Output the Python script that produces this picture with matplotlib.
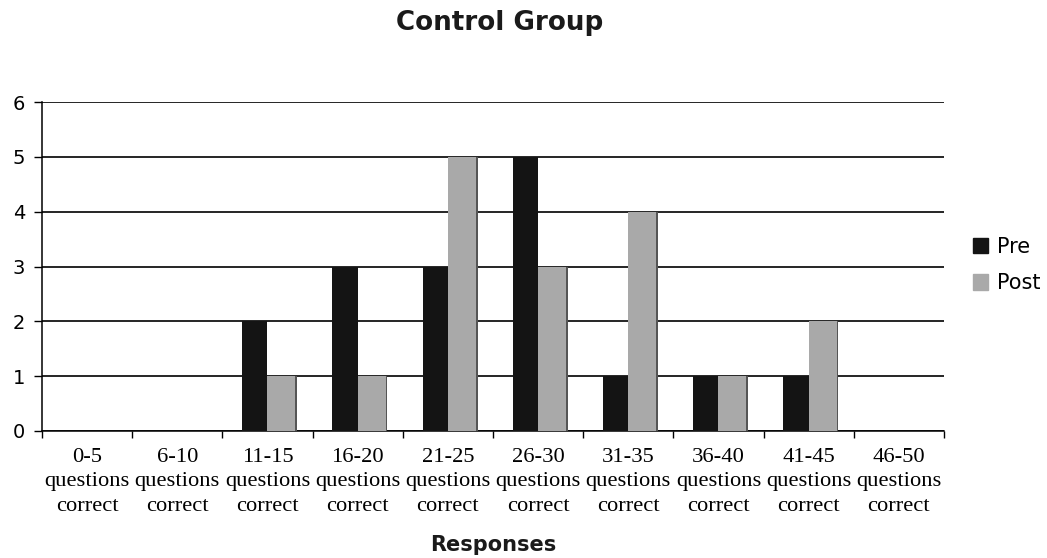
import numpy as np
import matplotlib.pyplot as plt
from matplotlib.patches import Patch

categories = ["0-5", "6-10", "11-15", "16-20", "21-25",
              "26-30", "31-35", "36-40", "41-45", "46-50"]
pre = [0, 0, 2, 3, 3, 5, 1, 1, 1, 0]
post = [0, 0, 1, 1, 5, 3, 4, 1, 2, 0]

pre_color = "#141414"
post_color = "#a9a9a9"

fig = plt.figure(figsize=(10.47, 5.58), dpi=100)
ax = fig.add_axes([0.0401, 0.2276, 0.8615, 0.5896])

x = np.arange(len(categories)) + 0.5
ax.bar(x - 0.28, pre, width=0.28, align="edge", color=pre_color, zorder=3)
ax.bar(x, post, width=0.31, align="edge", color=post_color, zorder=3)
# dark shadow line on the right side of each post bar
ax.bar(x + 0.31, post, width=0.02, align="edge", color="#555555", zorder=3)

ax.set_xlim(0, len(categories))
ax.set_ylim(0, 6)
ax.set_yticks(range(7))
ax.set_yticklabels([str(v) for v in range(7)], fontsize=14, family="DejaVu Sans")
ax.yaxis.grid(True, color="black", linewidth=1.2, zorder=1)

ax.set_xticks(np.arange(len(categories) + 1))
ax.set_xticklabels([])
ax.set_xticks(x, minor=True)
ax.set_xticklabels([c + "\nquestions\ncorrect" for c in categories], minor=True,
                   fontsize=16.2, family="Liberation Serif", linespacing=1.39)
ax.tick_params(axis="x", which="minor", length=0, pad=12)
ax.tick_params(axis="x", which="major", length=5, width=1, color="black")
ax.tick_params(axis="y", length=6, width=1, pad=6)

for side in ["top", "right"]:
    ax.spines[side].set_visible(False)
ax.spines["left"].set_linewidth(1.1)
ax.spines["bottom"].set_linewidth(1.1)

fig.text(0.477, 0.958, "Control Group", ha="center", va="center",
         fontsize=18.8, fontweight="bold", family="DejaVu Sans", color="#1a1a1a")
fig.text(0.471, 0.024, "Responses", ha="center", va="center",
         fontsize=15, fontweight="bold", family="DejaVu Sans", color="#1a1a1a")

handles = [Patch(color=pre_color, label="Pre"), Patch(color=post_color, label="Post")]
fig.legend(handles=handles, loc="center left", bbox_to_anchor=(0.911, 0.525),
           frameon=False, fontsize=15, handlelength=0.75, handleheight=0.75,
           handletextpad=0.4, labelspacing=0.8)

fig.savefig("out.png", dpi=100)
